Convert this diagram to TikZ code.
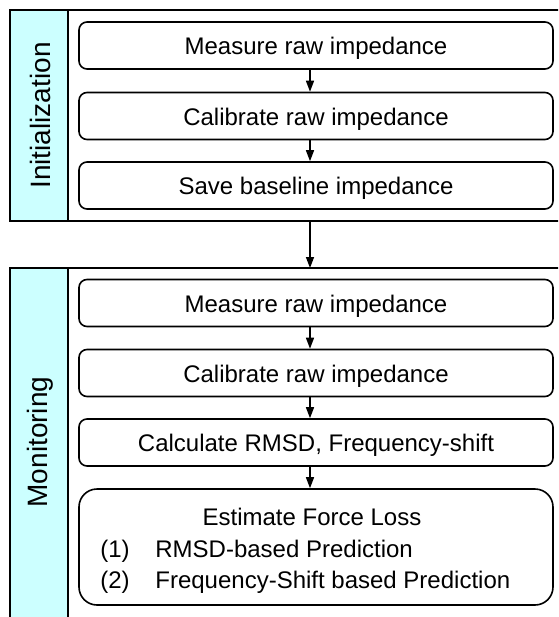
\documentclass[tikz,border=0pt]{standalone}
\usepackage{fontspec}
\setmainfont{Liberation Sans}
\usetikzlibrary{arrows.meta}
\definecolor{sidecyan}{RGB}{204,255,255}
\begin{document}
\begin{tikzpicture}[x=0.5pt,y=-0.5pt,
  stepbox/.style={draw, line width=0.8pt, rounded corners=4pt, minimum width=237pt,
    minimum height=23.5pt, inner sep=0pt, text height=9pt, text depth=0pt,
    font=\fontsize{12}{14}\selectfont},
  bigbox/.style={draw, line width=0.8pt, rounded corners=9pt, minimum width=237pt,
    minimum height=58pt, inner sep=0pt},
  frameline/.style={draw, line width=0.8pt},
  sidecol/.style={fill=sidecyan, draw, line width=0.8pt},
  sidelabel/.style={rotate=90, font=\fontsize{14}{16}\selectfont},
  txt/.style={font=\fontsize{12}{14}\selectfont, inner sep=0pt},
  arr/.style={-{Triangle[length=5.5pt,width=4pt]}, line width=0.7pt}]
\useasboundingbox (0,0) rectangle (558,617);
\clip (0,0) rectangle (558,617);
% frames
\draw[frameline] (10,10) rectangle (600,221);
\draw[sidecol] (10,10) rectangle (68,221);
\node[sidelabel] (initlab) at (40,115.5) {Initialization};
\draw[frameline] (10,268) rectangle (600,640);
\draw[sidecol] (10,268) rectangle (68,640);
\node[sidelabel] (monlab) at (40,442) {Monitoring};
% init boxes
\node[stepbox] (b1) at (316,45.5) {Measure raw impedance};
\node[stepbox] (b2) at (316,116) {Calibrate raw impedance};
\node[stepbox] (b3) at (316,185.5) {Save baseline impedance};
% monitoring boxes
\node[stepbox] (m1) at (316,303) {Measure raw impedance};
\node[stepbox] (m2) at (316,373) {Calibrate raw impedance};
\node[stepbox] (m3) at (316,442.5) {Calculate RMSD, Frequency-shift};
\node[bigbox] (m4) at (316,547) {};
\node[txt, anchor=base] (e0) at (312,525) {Estimate Force Loss};
\node[txt, anchor=base west] (e1n) at (100,557) {(1)};
\node[txt, anchor=base west] (e1) at (155,557) {RMSD-based Prediction};
\node[txt, anchor=base west] (e2n) at (100,588) {(2)};
\node[txt, anchor=base west] (e2) at (155,588) {Frequency-Shift based Prediction};
% connectors
\coordinate (initbot) at (310,221);
\coordinate (montop) at (310,268);
\draw[arr] ([xshift=-3pt]b1.south) -- ([xshift=-3pt]b2.north);
\draw[arr] ([xshift=-3pt]b2.south) -- ([xshift=-3pt]b3.north);
\draw[arr] (initbot) -- (montop);
\draw[arr] ([xshift=-3pt]m1.south) -- ([xshift=-3pt]m2.north);
\draw[arr] ([xshift=-3pt]m2.south) -- ([xshift=-3pt]m3.north);
\draw[arr] ([xshift=-3pt]m3.south) -- ([xshift=-3pt]m4.north);
\end{tikzpicture}
\end{document}
